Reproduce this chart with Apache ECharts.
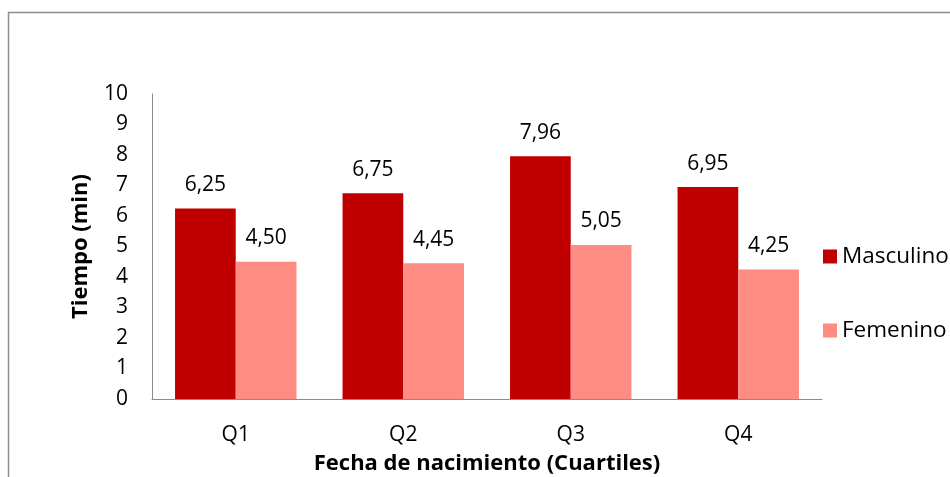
<!DOCTYPE html>
<html><head><meta charset="utf-8">
<script src="https://cdn.jsdelivr.net/npm/echarts@6/dist/echarts.min.js"></script>
<style>html,body{margin:0;padding:0;background:#fff}#c{width:950px;height:477px}</style>
</head><body><div id="c"></div>
<script>
const categories = ['Q1', 'Q2', 'Q3', 'Q4'];
const masculino = [6.25, 6.75, 7.96, 6.95];
const femenino = [4.50, 4.45, 5.05, 4.25];
const seriesNames = ['Masculino', 'Femenino'];
const yTicks = { min: 0, max: 10, interval: 1 };
const xTitle = 'Fecha de nacimiento (Cuartiles)';
const yTitle = 'Tiempo (min)';

const font = 'Open Sans, Liberation Sans, Arial, sans-serif';
const chart = echarts.init(document.getElementById('c'));
const fmt = p => p.value.toFixed(2).replace('.', ',');
chart.setOption({
  animation: false,
  textStyle: { fontFamily: font },
  graphic: [{ type: 'rect', shape: { x: 8.5, y: 12.5, width: 1000, height: 600 }, style: { fill: 'none', stroke: '#8c8c8c', lineWidth: 1.5 }, z: -1 }],
  grid: { left: 152, right: 128, top: 94, bottom: 78, containLabel: false, outerBoundsMode: 'none' },
  legend: {
    orient: 'vertical', left: 818, top: 240, itemWidth: 14, itemHeight: 14, itemGap: 51, icon: 'rect',
    textStyle: { fontSize: 22.5, lineHeight: 21, color: '#000', fontFamily: font },
    data: seriesNames
  },
  xAxis: {
    type: 'category', data: categories,
    name: xTitle, nameLocation: 'middle', nameGap: 54,
    nameTextStyle: { fontSize: 22, fontWeight: 'bold', color: '#000' },
    axisLine: { lineStyle: { color: '#8c8c8c' } }, axisTick: { show: false },
    axisLabel: { fontSize: 21, color: '#000', margin: 26 }
  },
  yAxis: {
    type: 'value', min: yTicks.min, max: yTicks.max, interval: yTicks.interval,
    name: yTitle, nameLocation: 'middle', nameGap: 60, nameRotate: 90,
    nameTextStyle: { fontSize: 22, fontWeight: 'bold', color: '#000' },
    axisLine: { show: true, lineStyle: { color: '#8c8c8c' } }, axisTick: { show: false },
    splitLine: { show: false },
    axisLabel: { fontSize: 21, color: '#000', margin: 24 }
  },
  series: [
    { name: seriesNames[0], type: 'bar', data: masculino, barGap: '0%', barCategoryGap: '27.5%',
      itemStyle: { color: '#C00000' },
      label: { show: true, position: 'top', distance: 13, fontSize: 21, color: '#000', formatter: fmt } },
    { name: seriesNames[1], type: 'bar', data: femenino,
      itemStyle: { color: '#FF8C83' },
      label: { show: true, position: 'top', distance: 13, fontSize: 21, color: '#000', formatter: fmt } }
  ]
});
</script></body></html>
